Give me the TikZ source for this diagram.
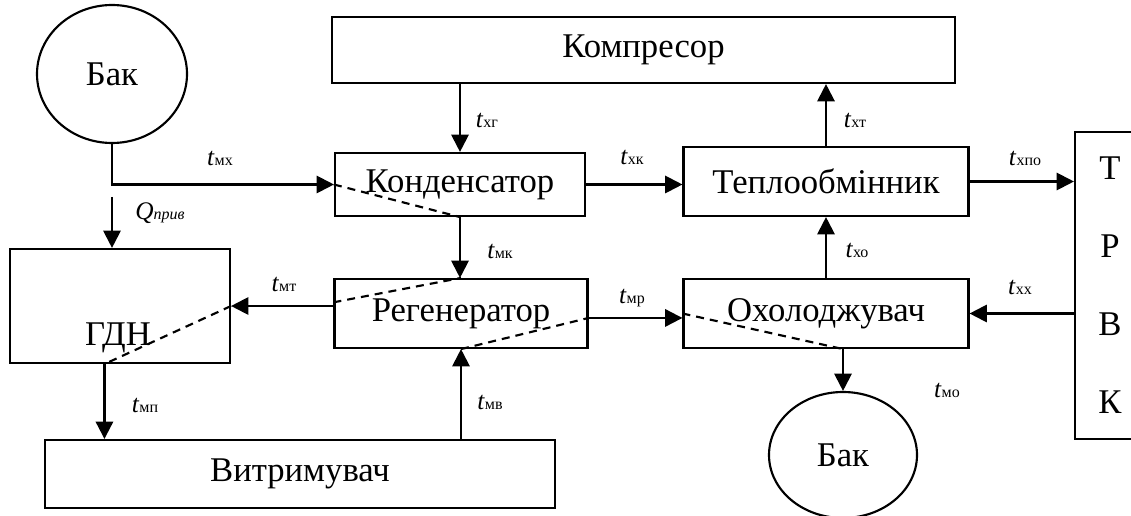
\documentclass[tikz,border=0pt]{standalone}
\usepackage{fontspec}
\setmainfont{Liberation Serif}
\usetikzlibrary{arrows.meta,shapes.geometric}
\newlength\px \setlength\px{0.75pt}
\newcommand{\tl}[1]{\textit{t}{\fontsize{12}{12}\selectfont #1}}

\begin{document}
\begin{tikzpicture}[x=0.75pt, y=-0.75pt,
    >={Triangle[length=13pt, width=13pt]},
    box/.style={draw, line width=1.6pt, inner sep=0pt, font=\fontsize{26}{28}\selectfont},
    tank/.style={draw, ellipse, line width=1.6pt, inner sep=0pt, font=\fontsize{26}{28}\selectfont},
    flow/.style={->, line width=1.6pt},
    cut/.style={line width=1.6pt, dash pattern=on 6pt off 4.5pt},
    lbl/.style={font=\fontsize{19}{20}\selectfont, inner sep=0pt}]
    \clip (0,0) rectangle (1131,516);
    % blocks
    \node [tank, minimum width=150\px, minimum height=138\px] (bak1) at (112,74) {Бак};
    \node [box, minimum width=623\px, minimum height=66\px] (komp) at (643.5,50) {Компресор};
    \node [box, minimum width=250\px, minimum height=63\px] (kond) at (460,184.5) {Конденсатор};
    \node [box, minimum width=285\px, minimum height=69\px] (teplo) at (826,181.5) {Теплообмінник};
    \node [box, minimum width=253\px, minimum height=69\px] (reg) at (461,313.5) {Регенератор};
    \node [box, minimum width=285\px, minimum height=69\px] (ohol) at (826,313.5) {Охолоджувач};
    \node [box, minimum width=220\px, minimum height=114\px] (gdn) at (120,306) {};
    \node [font=\fontsize{26}{28}\selectfont, inner sep=0pt] (gdntext) at (118,338) {ГДН};
    \node [box, minimum width=510\px, minimum height=68\px] (vit) at (300,474) {Витримувач};
    \node [box, minimum width=70\px, minimum height=307\px, align=center,
           font=\fontsize{26}{58.5}\selectfont] (trvk) at (1110,285.5) {Т\\Р\\В\\К};
    \node [tank, minimum width=148\px, minimum height=126\px] (bak2) at (843,455) {Бак};
    % flows
    \draw [flow] (bak1.south) |- (kond.west);
    \coordinate (qin) at (112,197);
    \draw [flow] (qin) -- (qin |- gdn.north);
    \draw [flow] (kond.north |- komp.south) -- (kond.north);
    \draw [flow] (kond.east) -- (kond.east -| teplo.west);
    \draw [flow] (teplo.north) -- (teplo.north |- komp.south);
    \draw [flow] (teplo.east) -- (teplo.east -| trvk.west);
    \draw [flow] (kond.south) -- (kond.south |- reg.north);
    \draw [flow] (ohol.north) -- (ohol.north |- teplo.south);
    \draw [flow] (ohol.east -| trvk.west) -- (ohol.east);
    \draw [flow] (gdn.east -| reg.west) -- (gdn.east);
    \draw [flow] (reg.-2) -- (reg.-2 -| ohol.west);
    \draw [flow] (bak2.north |- ohol.south) -- (bak2.north);
    \draw [flow] (gdn.255) -- (gdn.255 |- vit.north);
    \draw [flow] (reg.south |- vit.north) -- (reg.south);
    % dashed
    \draw [cut] (kond.west) -- (kond.south);
    \draw [cut] (reg.175) -- (reg.north);
    \draw [cut] (reg.south) -- (reg.-2);
    \draw [cut] (gdn.east) -- (gdn.255);
    \draw [cut] (ohol.west) -- (bak2.north |- ohol.south);
    % labels
    \node [lbl] (lmx) at (220,158) {\tl{мх}};
    \node [lbl] (lq) at (160,213) {\textit{Q}{\fontsize{12}{12}\selectfont\itshape прив}};
    \node [lbl] (lxg) at (487,120) {\tl{хг}};
    \node [lbl] (lxk) at (632,157) {\tl{хк}};
    \node [lbl] (lxt) at (855,120) {\tl{хт}};
    \node [lbl] (lxpo) at (1025,158) {\tl{хпо}};
    \node [lbl] (lmk) at (500,251) {\tl{мк}};
    \node [lbl] (lxo) at (857,250) {\tl{хо}};
    \node [lbl] (lmt) at (284,284) {\tl{мт}};
    \node [lbl] (lmr) at (632,298) {\tl{мр}};
    \node [lbl] (lxx) at (1020,287) {\tl{хх}};
    \node [lbl] (lmo) at (947,390) {\tl{мо}};
    \node [lbl] (lmp) at (145,405) {\tl{мп}};
    \node [lbl] (lmv) at (490,402) {\tl{мв}};
\end{tikzpicture}
\end{document}
